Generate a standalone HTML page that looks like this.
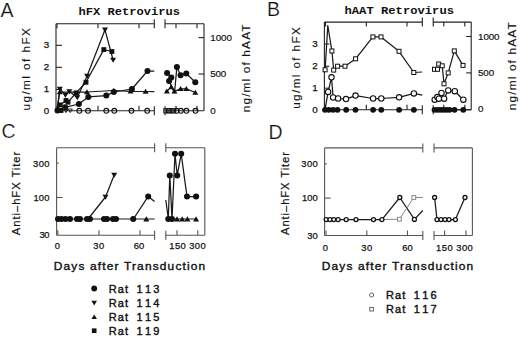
<!DOCTYPE html>
<html><head><meta charset="utf-8"><style>
html,body{margin:0;padding:0;background:#fff;}
body{width:520px;height:337px;overflow:hidden;font-family:"Liberation Sans", sans-serif;}
svg{display:block;}
</style></head><body>
<svg width="520" height="337" viewBox="0 0 520 337">
<rect width="520" height="337" fill="#fff"/>
<text x="0.5" y="17.1" font-size="19.5" font-family='"Liberation Sans", sans-serif' font-weight="normal" text-anchor="start" fill="#111" stroke="#fff" stroke-width="0.2">A</text>
<text x="267" y="15.7" font-size="19.5" font-family='"Liberation Sans", sans-serif' font-weight="normal" text-anchor="start" fill="#111" stroke="#fff" stroke-width="0.2">B</text>
<text x="1.5" y="138.4" font-size="19.5" font-family='"Liberation Sans", sans-serif' font-weight="normal" text-anchor="start" fill="#111" stroke="#fff" stroke-width="0.2">C</text>
<text x="268.5" y="138.9" font-size="19.5" font-family='"Liberation Sans", sans-serif' font-weight="normal" text-anchor="start" fill="#111" stroke="#fff" stroke-width="0.2">D</text>
<text x="78.4" y="14.5" font-size="10.2" font-family='"Liberation Mono", monospace' font-weight="bold" text-anchor="start" fill="#111" textLength="101.5" lengthAdjust="spacingAndGlyphs">hFX Retrovirus</text>
<text x="344.5" y="13.8" font-size="10.2" font-family='"Liberation Mono", monospace' font-weight="bold" text-anchor="start" fill="#111" textLength="109.5" lengthAdjust="spacingAndGlyphs">hAAT Retrovirus</text>
<line x1="56" y1="23.7" x2="154.3" y2="23.7" stroke="#222" stroke-width="1.1"/>
<line x1="165" y1="23.7" x2="204" y2="23.7" stroke="#222" stroke-width="1.1"/>
<line x1="56" y1="110.8" x2="154.3" y2="110.8" stroke="#222" stroke-width="1.1"/>
<line x1="165" y1="110.8" x2="204" y2="110.8" stroke="#222" stroke-width="1.1"/>
<line x1="56" y1="23.7" x2="56" y2="110.8" stroke="#222" stroke-width="1.1"/>
<line x1="204" y1="23.7" x2="204" y2="110.8" stroke="#222" stroke-width="1.1"/>
<line x1="154.3" y1="19.2" x2="154.3" y2="28.2" stroke="#222" stroke-width="1.1"/>
<line x1="154.3" y1="106.3" x2="154.3" y2="115.3" stroke="#222" stroke-width="1.1"/>
<line x1="165" y1="19.2" x2="165" y2="28.2" stroke="#222" stroke-width="1.1"/>
<line x1="165" y1="106.3" x2="165" y2="115.3" stroke="#222" stroke-width="1.1"/>
<line x1="57" y1="23.7" x2="57" y2="28.2" stroke="#222" stroke-width="1.1"/>
<line x1="57" y1="110.8" x2="57" y2="105.8" stroke="#222" stroke-width="1.1"/>
<line x1="98" y1="23.7" x2="98" y2="28.2" stroke="#222" stroke-width="1.1"/>
<line x1="98" y1="110.8" x2="98" y2="105.8" stroke="#222" stroke-width="1.1"/>
<line x1="139" y1="23.7" x2="139" y2="28.2" stroke="#222" stroke-width="1.1"/>
<line x1="139" y1="110.8" x2="139" y2="105.8" stroke="#222" stroke-width="1.1"/>
<line x1="176" y1="23.7" x2="176" y2="28.2" stroke="#222" stroke-width="1.1"/>
<line x1="176" y1="110.8" x2="176" y2="105.8" stroke="#222" stroke-width="1.1"/>
<line x1="197" y1="23.7" x2="197" y2="28.2" stroke="#222" stroke-width="1.1"/>
<line x1="197" y1="110.8" x2="197" y2="105.8" stroke="#222" stroke-width="1.1"/>
<line x1="56" y1="45.3" x2="62" y2="45.3" stroke="#222" stroke-width="1.1"/>
<line x1="56" y1="67.3" x2="62" y2="67.3" stroke="#222" stroke-width="1.1"/>
<line x1="56" y1="89.4" x2="62" y2="89.4" stroke="#222" stroke-width="1.1"/>
<line x1="204" y1="37.6" x2="198.5" y2="37.6" stroke="#222" stroke-width="1.1"/>
<line x1="204" y1="74" x2="198.5" y2="74" stroke="#222" stroke-width="1.1"/>
<text x="49.2" y="48.0" font-size="9.8" font-family='"Liberation Sans", sans-serif' font-weight="normal" text-anchor="end" fill="#111" stroke="#111" stroke-width="0.25">3</text>
<text x="49.2" y="70.0" font-size="9.8" font-family='"Liberation Sans", sans-serif' font-weight="normal" text-anchor="end" fill="#111" stroke="#111" stroke-width="0.25">2</text>
<text x="49.2" y="92.10000000000001" font-size="9.8" font-family='"Liberation Sans", sans-serif' font-weight="normal" text-anchor="end" fill="#111" stroke="#111" stroke-width="0.25">1</text>
<text x="49.2" y="113.5" font-size="9.8" font-family='"Liberation Sans", sans-serif' font-weight="normal" text-anchor="end" fill="#111" stroke="#111" stroke-width="0.25">0</text>
<text x="210.3" y="40.8" font-size="9.8" font-family='"Liberation Sans", sans-serif' font-weight="normal" text-anchor="start" fill="#111" textLength="21.6" lengthAdjust="spacing" stroke="#111" stroke-width="0.2">1000</text>
<text x="210.3" y="77.4" font-size="9.8" font-family='"Liberation Sans", sans-serif' font-weight="normal" text-anchor="start" fill="#111" textLength="16" lengthAdjust="spacing" stroke="#111" stroke-width="0.2">500</text>
<text x="210.3" y="114.1" font-size="9.8" font-family='"Liberation Sans", sans-serif' font-weight="normal" text-anchor="start" fill="#111" stroke="#111" stroke-width="0.2">0</text>
<text x="30.1" y="110.5" font-size="10" font-family='"Liberation Sans", sans-serif' font-weight="normal" text-anchor="start" fill="#111" textLength="83.8" lengthAdjust="spacingAndGlyphs" letter-spacing="1.2" stroke="#111" stroke-width="0.1" transform="rotate(-90 30.1 110.5)">ug/ml of hFX</text>
<text x="249.9" y="112.3" font-size="10.5" font-family='"Liberation Sans", sans-serif' font-weight="normal" text-anchor="start" fill="#111" textLength="89" lengthAdjust="spacingAndGlyphs" letter-spacing="1.0" stroke="#111" stroke-width="0.1" transform="rotate(-90 249.9 112.3)">ng/ml of hAAT</text>
<polyline points="57,110.5 60.2,104.9 66,100.5 68,102.2 76.1,92.9 86,82.3 103.8,49.6 111.9,51.5" fill="none" stroke="#1a1a1a" stroke-width="1.25" stroke-linejoin="round"/>
<polyline points="57,110.5 59.8,88.9 65.4,95.1 69.3,91.6 77.3,97.4 87.1,76 105,29.8 113.1,60" fill="none" stroke="#1a1a1a" stroke-width="1.25" stroke-linejoin="round"/>
<polyline points="57,110.5 59.8,92 87,92 113.8,90.5 130.6,91.3 145.6,91.5 154.3,91.5" fill="none" stroke="#1a1a1a" stroke-width="1.25" stroke-linejoin="round"/>
<polyline points="165,91 166.9,91.3 171.3,86.9 174.4,91.3 180.6,88.8 186.3,88.8 195.3,92.5" fill="none" stroke="#1a1a1a" stroke-width="1.25" stroke-linejoin="round"/>
<polyline points="57,110.5 65.1,107.3 78.9,104 88.3,96.9 106.3,95.6 113.8,92 131.9,89 147.5,71 154.3,71" fill="none" stroke="#1a1a1a" stroke-width="1.25" stroke-linejoin="round"/>
<polyline points="165,72 167.1,72.9 171.3,77.5 169.1,81 174.5,93 176.9,66.9 180.6,75.3 186.3,73.5 195.3,82.3" fill="none" stroke="#1a1a1a" stroke-width="1.25" stroke-linejoin="round"/>
<rect x="57.78" y="102.48" width="4.840000000000001" height="4.840000000000001" fill="#111"/>
<rect x="63.58" y="98.08" width="4.840000000000001" height="4.840000000000001" fill="#111"/>
<rect x="65.58" y="99.78" width="4.840000000000001" height="4.840000000000001" fill="#111"/>
<rect x="73.67999999999999" y="90.48" width="4.840000000000001" height="4.840000000000001" fill="#111"/>
<rect x="83.58" y="79.88" width="4.840000000000001" height="4.840000000000001" fill="#111"/>
<rect x="101.38" y="47.18" width="4.840000000000001" height="4.840000000000001" fill="#111"/>
<rect x="109.48" y="49.08" width="4.840000000000001" height="4.840000000000001" fill="#111"/>
<rect x="55.58" y="108.08" width="4.840000000000001" height="4.840000000000001" fill="#111"/>
<rect x="58.58" y="108.08" width="4.840000000000001" height="4.840000000000001" fill="#111"/>
<polygon points="56.809999999999995,86.6575 62.79,86.6575 59.8,91.74050000000001" fill="#111"/>
<polygon points="62.410000000000004,92.85749999999999 68.39,92.85749999999999 65.4,97.9405" fill="#111"/>
<polygon points="66.31,89.35749999999999 72.28999999999999,89.35749999999999 69.3,94.4405" fill="#111"/>
<polygon points="74.31,95.1575 80.28999999999999,95.1575 77.3,100.24050000000001" fill="#111"/>
<polygon points="84.11,73.7575 90.08999999999999,73.7575 87.1,78.8405" fill="#111"/>
<polygon points="102.01,27.5575 107.99,27.5575 105,32.6405" fill="#111"/>
<polygon points="110.11,57.7575 116.08999999999999,57.7575 113.1,62.8405" fill="#111"/>
<polygon points="56.809999999999995,94.2425 62.79,94.2425 59.8,89.1595" fill="#111"/>
<polygon points="84.01,94.2425 89.99,94.2425 87,89.1595" fill="#111"/>
<polygon points="110.81,92.7425 116.78999999999999,92.7425 113.8,87.6595" fill="#111"/>
<polygon points="127.61,93.54249999999999 133.59,93.54249999999999 130.6,88.45949999999999" fill="#111"/>
<polygon points="142.60999999999999,93.7425 148.59,93.7425 145.6,88.6595" fill="#111"/>
<polygon points="163.91,93.54249999999999 169.89000000000001,93.54249999999999 166.9,88.45949999999999" fill="#111"/>
<polygon points="168.31,89.14250000000001 174.29000000000002,89.14250000000001 171.3,84.0595" fill="#111"/>
<polygon points="171.41,93.54249999999999 177.39000000000001,93.54249999999999 174.4,88.45949999999999" fill="#111"/>
<polygon points="177.60999999999999,91.04249999999999 183.59,91.04249999999999 180.6,85.95949999999999" fill="#111"/>
<polygon points="183.31,91.04249999999999 189.29000000000002,91.04249999999999 186.3,85.95949999999999" fill="#111"/>
<polygon points="192.31,94.7425 198.29000000000002,94.7425 195.3,89.6595" fill="#111"/>
<circle cx="57.5" cy="110.5" r="3.0240000000000005" fill="#111"/>
<circle cx="65.1" cy="107.3" r="3.0240000000000005" fill="#111"/>
<circle cx="78.9" cy="104" r="3.0240000000000005" fill="#111"/>
<circle cx="88.3" cy="96.9" r="3.0240000000000005" fill="#111"/>
<circle cx="106.3" cy="95.6" r="3.0240000000000005" fill="#111"/>
<circle cx="113.8" cy="92" r="3.0240000000000005" fill="#111"/>
<circle cx="131.9" cy="89" r="3.0240000000000005" fill="#111"/>
<circle cx="147.5" cy="71" r="3.0240000000000005" fill="#111"/>
<circle cx="167.1" cy="72.9" r="3.0240000000000005" fill="#111"/>
<circle cx="171.3" cy="77.5" r="3.0240000000000005" fill="#111"/>
<circle cx="169.1" cy="81" r="3.0240000000000005" fill="#111"/>
<circle cx="176.9" cy="66.9" r="3.0240000000000005" fill="#111"/>
<circle cx="180.6" cy="75.3" r="3.0240000000000005" fill="#111"/>
<circle cx="186.3" cy="73.5" r="3.0240000000000005" fill="#111"/>
<circle cx="195.3" cy="82.3" r="3.0240000000000005" fill="#111"/>
<circle cx="79.3" cy="110.8" r="2.4" fill="none" stroke="#111" stroke-width="1.1"/>
<circle cx="88" cy="110.8" r="2.4" fill="none" stroke="#111" stroke-width="1.1"/>
<circle cx="106.3" cy="110.8" r="2.4" fill="none" stroke="#111" stroke-width="1.1"/>
<circle cx="114.3" cy="110.8" r="2.4" fill="none" stroke="#111" stroke-width="1.1"/>
<circle cx="131.5" cy="110.8" r="2.4" fill="none" stroke="#111" stroke-width="1.1"/>
<circle cx="147.2" cy="110.8" r="2.4" fill="none" stroke="#111" stroke-width="1.1"/>
<circle cx="176.6" cy="110.8" r="2.4" fill="none" stroke="#111" stroke-width="1.1"/>
<circle cx="180.9" cy="110.8" r="2.4" fill="none" stroke="#111" stroke-width="1.1"/>
<circle cx="186.4" cy="110.8" r="2.4" fill="none" stroke="#111" stroke-width="1.1"/>
<circle cx="195.5" cy="110.8" r="2.4" fill="none" stroke="#111" stroke-width="1.1"/>
<rect x="163.8" y="108.7" width="4" height="4.2" fill="none" stroke="#111" stroke-width="1"/>
<rect x="166.4" y="108.7" width="4" height="4.2" fill="none" stroke="#111" stroke-width="1"/>
<rect x="169" y="108.7" width="4" height="4.2" fill="none" stroke="#111" stroke-width="1"/>
<rect x="171.6" y="108.7" width="4" height="4.2" fill="none" stroke="#111" stroke-width="1"/>
<polygon points="64,109.0 68,109.0 66,112.6" fill="none" stroke="#111" stroke-width="0.9"/>
<polygon points="68.3,109.0 72.3,109.0 70.3,112.6" fill="none" stroke="#111" stroke-width="0.9"/>
<line x1="324.4" y1="22.1" x2="422.3" y2="22.1" stroke="#222" stroke-width="1.1"/>
<line x1="433.2" y1="22.1" x2="471.2" y2="22.1" stroke="#222" stroke-width="1.1"/>
<line x1="324.4" y1="109.8" x2="422.3" y2="109.8" stroke="#222" stroke-width="1.1"/>
<line x1="433.2" y1="109.8" x2="471.2" y2="109.8" stroke="#222" stroke-width="1.1"/>
<line x1="324.4" y1="22.1" x2="324.4" y2="109.8" stroke="#222" stroke-width="1.1"/>
<line x1="471.2" y1="22.1" x2="471.2" y2="109.8" stroke="#222" stroke-width="1.1"/>
<line x1="422.3" y1="17.6" x2="422.3" y2="26.6" stroke="#222" stroke-width="1.1"/>
<line x1="422.3" y1="105.3" x2="422.3" y2="114.3" stroke="#222" stroke-width="1.1"/>
<line x1="433.2" y1="17.6" x2="433.2" y2="26.6" stroke="#222" stroke-width="1.1"/>
<line x1="433.2" y1="105.3" x2="433.2" y2="114.3" stroke="#222" stroke-width="1.1"/>
<line x1="325.5" y1="22.1" x2="325.5" y2="26.6" stroke="#222" stroke-width="1.1"/>
<line x1="325.5" y1="109.8" x2="325.5" y2="104.8" stroke="#222" stroke-width="1.1"/>
<line x1="366.3" y1="22.1" x2="366.3" y2="26.6" stroke="#222" stroke-width="1.1"/>
<line x1="366.3" y1="109.8" x2="366.3" y2="104.8" stroke="#222" stroke-width="1.1"/>
<line x1="407" y1="22.1" x2="407" y2="26.6" stroke="#222" stroke-width="1.1"/>
<line x1="407" y1="109.8" x2="407" y2="104.8" stroke="#222" stroke-width="1.1"/>
<line x1="443.8" y1="22.1" x2="443.8" y2="26.6" stroke="#222" stroke-width="1.1"/>
<line x1="443.8" y1="109.8" x2="443.8" y2="104.8" stroke="#222" stroke-width="1.1"/>
<line x1="464.8" y1="22.1" x2="464.8" y2="26.6" stroke="#222" stroke-width="1.1"/>
<line x1="464.8" y1="109.8" x2="464.8" y2="104.8" stroke="#222" stroke-width="1.1"/>
<line x1="324.4" y1="44" x2="329.4" y2="44" stroke="#222" stroke-width="1.1"/>
<line x1="324.4" y1="66.2" x2="329.4" y2="66.2" stroke="#222" stroke-width="1.1"/>
<line x1="324.4" y1="88.2" x2="329.4" y2="88.2" stroke="#222" stroke-width="1.1"/>
<line x1="471.2" y1="36.5" x2="466.2" y2="36.5" stroke="#222" stroke-width="1.1"/>
<line x1="471.2" y1="72.9" x2="466.2" y2="72.9" stroke="#222" stroke-width="1.1"/>
<text x="317.8" y="46.6" font-size="9.8" font-family='"Liberation Sans", sans-serif' font-weight="normal" text-anchor="end" fill="#111" stroke="#111" stroke-width="0.25">3</text>
<text x="317.8" y="69.2" font-size="9.8" font-family='"Liberation Sans", sans-serif' font-weight="normal" text-anchor="end" fill="#111" stroke="#111" stroke-width="0.25">2</text>
<text x="317.8" y="90.9" font-size="9.8" font-family='"Liberation Sans", sans-serif' font-weight="normal" text-anchor="end" fill="#111" stroke="#111" stroke-width="0.25">1</text>
<text x="317.8" y="112.8" font-size="9.8" font-family='"Liberation Sans", sans-serif' font-weight="normal" text-anchor="end" fill="#111" stroke="#111" stroke-width="0.25">0</text>
<text x="478.1" y="40.1" font-size="9.8" font-family='"Liberation Sans", sans-serif' font-weight="normal" text-anchor="start" fill="#111" textLength="21.4" lengthAdjust="spacing" stroke="#111" stroke-width="0.2">1000</text>
<text x="478.1" y="76.1" font-size="9.8" font-family='"Liberation Sans", sans-serif' font-weight="normal" text-anchor="start" fill="#111" textLength="16" lengthAdjust="spacing" stroke="#111" stroke-width="0.2">500</text>
<text x="478.1" y="112.0" font-size="9.8" font-family='"Liberation Sans", sans-serif' font-weight="normal" text-anchor="start" fill="#111" stroke="#111" stroke-width="0.2">0</text>
<text x="299.8" y="108.8" font-size="10" font-family='"Liberation Sans", sans-serif' font-weight="normal" text-anchor="start" fill="#111" textLength="83" lengthAdjust="spacingAndGlyphs" letter-spacing="1.2" stroke="#111" stroke-width="0.1" transform="rotate(-90 299.8 108.8)">ug/ml of hFX</text>
<text x="516.3" y="110.2" font-size="10.5" font-family='"Liberation Sans", sans-serif' font-weight="normal" text-anchor="start" fill="#111" textLength="89" lengthAdjust="spacingAndGlyphs" letter-spacing="1.0" stroke="#111" stroke-width="0.1" transform="rotate(-90 516.3 110.2)">ng/ml of hAAT</text>
<polyline points="325.1,69.8 327.8,25.5 331.9,51 333.7,70.1 337.6,66.2 345,66.2 355.6,58.8 372.9,36.9 381,36.9 399,51.3 413.8,72.5 422.3,72" fill="none" stroke="#1a1a1a" stroke-width="1.25" stroke-linejoin="round"/>
<polyline points="442.2,65.8 444,83.8 448.2,72.9 454.3,50.9 463,65.4" fill="none" stroke="#1a1a1a" stroke-width="1.25" stroke-linejoin="round"/>
<polyline points="325,109.8 328.1,91.9 331.5,77.3 333.1,97.5 338.1,98.5 346,99.1 355.5,95.6 373.1,98.5 381.3,98.5 399.1,97.3 413.9,93.4 422.3,95.2" fill="none" stroke="#1a1a1a" stroke-width="1.25" stroke-linejoin="round"/>
<polyline points="434.7,99.7 437.3,97.1 441.5,93 444.1,98.7 448.2,90.4 454.8,91.2 463.3,99.7" fill="none" stroke="#1a1a1a" stroke-width="1.25" stroke-linejoin="round"/>
<polyline points="433.2,109.8 471.2,109.8" fill="none" stroke="#1a1a1a" stroke-width="1.0" stroke-linejoin="round"/>
<circle cx="325" cy="109.8" r="2.9120000000000004" fill="#111"/>
<circle cx="328.8" cy="109.8" r="2.9120000000000004" fill="#111"/>
<circle cx="333.1" cy="109.8" r="2.9120000000000004" fill="#111"/>
<circle cx="337.5" cy="109.8" r="2.9120000000000004" fill="#111"/>
<circle cx="346.2" cy="109.8" r="2.9120000000000004" fill="#111"/>
<circle cx="355.5" cy="109.8" r="2.9120000000000004" fill="#111"/>
<circle cx="373.1" cy="109.8" r="2.9120000000000004" fill="#111"/>
<circle cx="381.3" cy="109.8" r="2.9120000000000004" fill="#111"/>
<circle cx="399.1" cy="109.8" r="2.9120000000000004" fill="#111"/>
<circle cx="413.9" cy="109.8" r="2.9120000000000004" fill="#111"/>
<circle cx="434.5" cy="109.8" r="2.9120000000000004" fill="#111"/>
<circle cx="437.5" cy="109.8" r="2.9120000000000004" fill="#111"/>
<circle cx="440.5" cy="109.8" r="2.9120000000000004" fill="#111"/>
<circle cx="443.5" cy="109.8" r="2.9120000000000004" fill="#111"/>
<circle cx="446.5" cy="109.8" r="2.9120000000000004" fill="#111"/>
<circle cx="449.5" cy="109.8" r="2.9120000000000004" fill="#111"/>
<circle cx="454.5" cy="109.8" r="2.9120000000000004" fill="#111"/>
<circle cx="463.3" cy="109.8" r="2.9120000000000004" fill="#111"/>
<rect x="323.1" y="67.8" width="4.0" height="4.0" fill="#fff" stroke="#111" stroke-width="1.0"/>
<rect x="329.9" y="49.0" width="4.0" height="4.0" fill="#fff" stroke="#111" stroke-width="1.0"/>
<rect x="331.7" y="68.1" width="4.0" height="4.0" fill="#fff" stroke="#111" stroke-width="1.0"/>
<rect x="335.6" y="64.2" width="4.0" height="4.0" fill="#fff" stroke="#111" stroke-width="1.0"/>
<rect x="343.0" y="64.2" width="4.0" height="4.0" fill="#fff" stroke="#111" stroke-width="1.0"/>
<rect x="353.6" y="56.8" width="4.0" height="4.0" fill="#fff" stroke="#111" stroke-width="1.0"/>
<rect x="370.9" y="34.9" width="4.0" height="4.0" fill="#fff" stroke="#111" stroke-width="1.0"/>
<rect x="379.0" y="34.9" width="4.0" height="4.0" fill="#fff" stroke="#111" stroke-width="1.0"/>
<rect x="397.0" y="49.3" width="4.0" height="4.0" fill="#fff" stroke="#111" stroke-width="1.0"/>
<rect x="411.8" y="70.5" width="4.0" height="4.0" fill="#fff" stroke="#111" stroke-width="1.0"/>
<rect x="432.5" y="67.3" width="4.0" height="4.0" fill="#fff" stroke="#111" stroke-width="1.0"/>
<rect x="435.5" y="67.3" width="4.0" height="4.0" fill="#fff" stroke="#111" stroke-width="1.0"/>
<rect x="436.7" y="62.0" width="4.0" height="4.0" fill="#fff" stroke="#111" stroke-width="1.0"/>
<rect x="440.2" y="63.8" width="4.0" height="4.0" fill="#fff" stroke="#111" stroke-width="1.0"/>
<rect x="442.0" y="81.8" width="4.0" height="4.0" fill="#fff" stroke="#111" stroke-width="1.0"/>
<rect x="446.2" y="70.9" width="4.0" height="4.0" fill="#fff" stroke="#111" stroke-width="1.0"/>
<rect x="452.3" y="48.9" width="4.0" height="4.0" fill="#fff" stroke="#111" stroke-width="1.0"/>
<rect x="461.0" y="63.400000000000006" width="4.0" height="4.0" fill="#fff" stroke="#111" stroke-width="1.0"/>
<circle cx="328.1" cy="91.9" r="2.7" fill="#fff" stroke="#111" stroke-width="1.1"/>
<circle cx="331.5" cy="77.3" r="2.7" fill="#fff" stroke="#111" stroke-width="1.1"/>
<circle cx="333.1" cy="97.5" r="2.7" fill="#fff" stroke="#111" stroke-width="1.1"/>
<circle cx="338.1" cy="98.5" r="2.7" fill="#fff" stroke="#111" stroke-width="1.1"/>
<circle cx="346" cy="99.1" r="2.7" fill="#fff" stroke="#111" stroke-width="1.1"/>
<circle cx="355.5" cy="95.6" r="2.7" fill="#fff" stroke="#111" stroke-width="1.1"/>
<circle cx="373.1" cy="98.5" r="2.7" fill="#fff" stroke="#111" stroke-width="1.1"/>
<circle cx="381.3" cy="98.5" r="2.7" fill="#fff" stroke="#111" stroke-width="1.1"/>
<circle cx="399.1" cy="97.3" r="2.7" fill="#fff" stroke="#111" stroke-width="1.1"/>
<circle cx="413.9" cy="93.4" r="2.7" fill="#fff" stroke="#111" stroke-width="1.1"/>
<circle cx="434.7" cy="99.7" r="2.7" fill="#fff" stroke="#111" stroke-width="1.1"/>
<circle cx="437.3" cy="97.1" r="2.7" fill="#fff" stroke="#111" stroke-width="1.1"/>
<circle cx="438.9" cy="98.7" r="2.7" fill="#fff" stroke="#111" stroke-width="1.1"/>
<circle cx="441.5" cy="93" r="2.7" fill="#fff" stroke="#111" stroke-width="1.1"/>
<circle cx="444.1" cy="98.7" r="2.7" fill="#fff" stroke="#111" stroke-width="1.1"/>
<circle cx="448.2" cy="90.4" r="2.7" fill="#fff" stroke="#111" stroke-width="1.1"/>
<circle cx="454.8" cy="91.2" r="2.7" fill="#fff" stroke="#111" stroke-width="1.1"/>
<circle cx="463.3" cy="99.7" r="2.7" fill="#fff" stroke="#111" stroke-width="1.1"/>
<line x1="56.6" y1="147.7" x2="154.6" y2="147.7" stroke="#555" stroke-width="1.1"/>
<line x1="165.8" y1="147.7" x2="204.8" y2="147.7" stroke="#555" stroke-width="1.1"/>
<line x1="56.6" y1="235.2" x2="154.6" y2="235.2" stroke="#555" stroke-width="1.1"/>
<line x1="165.8" y1="235.2" x2="204.8" y2="235.2" stroke="#555" stroke-width="1.1"/>
<line x1="56.6" y1="147.7" x2="56.6" y2="235.2" stroke="#555" stroke-width="1.1"/>
<line x1="204.8" y1="147.7" x2="204.8" y2="235.2" stroke="#555" stroke-width="1.1"/>
<line x1="154.6" y1="143.2" x2="154.6" y2="152.2" stroke="#555" stroke-width="1.1"/>
<line x1="154.6" y1="230.7" x2="154.6" y2="239.7" stroke="#555" stroke-width="1.1"/>
<line x1="165.8" y1="143.2" x2="165.8" y2="152.2" stroke="#555" stroke-width="1.1"/>
<line x1="165.8" y1="230.7" x2="165.8" y2="239.7" stroke="#555" stroke-width="1.1"/>
<line x1="57.8" y1="235.2" x2="57.8" y2="230.2" stroke="#555" stroke-width="1.1"/>
<line x1="99" y1="235.2" x2="99" y2="230.2" stroke="#555" stroke-width="1.1"/>
<line x1="140" y1="235.2" x2="140" y2="230.2" stroke="#555" stroke-width="1.1"/>
<line x1="177" y1="235.2" x2="177" y2="230.2" stroke="#555" stroke-width="1.1"/>
<line x1="197.8" y1="235.2" x2="197.8" y2="230.2" stroke="#555" stroke-width="1.1"/>
<line x1="56.6" y1="163.1" x2="58.800000000000004" y2="163.1" stroke="#555" stroke-width="1.1"/>
<line x1="56.6" y1="197.5" x2="62.6" y2="197.5" stroke="#555" stroke-width="1.1"/>
<text x="49.4" y="166.60000000000002" font-size="9.4" font-family='"Liberation Sans", sans-serif' font-weight="normal" text-anchor="end" fill="#111" textLength="16.3" lengthAdjust="spacing" stroke="#111" stroke-width="0.25">300</text>
<text x="49.4" y="200.8" font-size="9.4" font-family='"Liberation Sans", sans-serif' font-weight="normal" text-anchor="end" fill="#111" textLength="16" lengthAdjust="spacing" stroke="#111" stroke-width="0.25">100</text>
<text x="49.4" y="238.4" font-size="9.4" font-family='"Liberation Sans", sans-serif' font-weight="normal" text-anchor="end" fill="#111" textLength="10" lengthAdjust="spacing" stroke="#111" stroke-width="0.25">30</text>
<text x="57.4" y="249" font-size="9.4" font-family='"Liberation Sans", sans-serif' font-weight="normal" text-anchor="middle" fill="#111" stroke="#111" stroke-width="0.25">0</text>
<text x="98.8" y="249" font-size="9.4" font-family='"Liberation Sans", sans-serif' font-weight="normal" text-anchor="middle" fill="#111" textLength="11" lengthAdjust="spacing" stroke="#111" stroke-width="0.25">30</text>
<text x="139" y="249" font-size="9.4" font-family='"Liberation Sans", sans-serif' font-weight="normal" text-anchor="middle" fill="#111" textLength="10.6" lengthAdjust="spacing" stroke="#111" stroke-width="0.25">60</text>
<text x="177.5" y="249" font-size="9.4" font-family='"Liberation Sans", sans-serif' font-weight="normal" text-anchor="middle" fill="#111" textLength="16.4" lengthAdjust="spacing" stroke="#111" stroke-width="0.25">150</text>
<text x="197.4" y="249" font-size="9.4" font-family='"Liberation Sans", sans-serif' font-weight="normal" text-anchor="middle" fill="#111" textLength="16.5" lengthAdjust="spacing" stroke="#111" stroke-width="0.25">300</text>
<text x="20.1" y="235.2" font-size="11.2" font-family='"Liberation Sans", sans-serif' font-weight="normal" text-anchor="start" fill="#111" textLength="83.5" lengthAdjust="spacing" stroke="#111" stroke-width="0.2" transform="rotate(-90 20.1 235.2)">Anti&#8211;hFX Titer</text>
<polyline points="57.8,219 154.6,219" fill="none" stroke="#1a1a1a" stroke-width="1.2" stroke-linejoin="round"/>
<polyline points="88,219 105.5,197 114.2,175" fill="none" stroke="#1a1a1a" stroke-width="1.25" stroke-linejoin="round"/>
<polyline points="133.4,219 148.2,196.4 154.6,201.6" fill="none" stroke="#1a1a1a" stroke-width="1.25" stroke-linejoin="round"/>
<polyline points="165.8,200 168.3,219 169.8,175.4 172,219 175,153.8 177.2,175.4 181.2,153.8 187,196.6 196.1,196.6" fill="none" stroke="#1a1a1a" stroke-width="1.25" stroke-linejoin="round"/>
<polyline points="165.8,219 196.1,219" fill="none" stroke="#1a1a1a" stroke-width="1.0" stroke-linejoin="round"/>
<circle cx="58" cy="219" r="3.0240000000000005" fill="#111"/>
<circle cx="61.5" cy="219" r="3.0240000000000005" fill="#111"/>
<circle cx="65.5" cy="219" r="3.0240000000000005" fill="#111"/>
<circle cx="70" cy="219" r="3.0240000000000005" fill="#111"/>
<circle cx="77" cy="219" r="3.0240000000000005" fill="#111"/>
<circle cx="80" cy="219" r="3.0240000000000005" fill="#111"/>
<circle cx="87" cy="219" r="3.0240000000000005" fill="#111"/>
<circle cx="90" cy="219" r="3.0240000000000005" fill="#111"/>
<circle cx="104" cy="219" r="3.0240000000000005" fill="#111"/>
<circle cx="107" cy="219" r="3.0240000000000005" fill="#111"/>
<circle cx="113" cy="219" r="3.0240000000000005" fill="#111"/>
<circle cx="116" cy="219" r="3.0240000000000005" fill="#111"/>
<circle cx="133.2" cy="219" r="3.0240000000000005" fill="#111"/>
<circle cx="168.3" cy="219" r="3.0240000000000005" fill="#111"/>
<circle cx="172" cy="219" r="3.0240000000000005" fill="#111"/>
<circle cx="148.2" cy="196.4" r="3.0240000000000005" fill="#111"/>
<circle cx="169.8" cy="175.4" r="3.0240000000000005" fill="#111"/>
<circle cx="175" cy="153.8" r="3.0240000000000005" fill="#111"/>
<circle cx="177.2" cy="175.4" r="3.0240000000000005" fill="#111"/>
<circle cx="181.2" cy="153.8" r="3.0240000000000005" fill="#111"/>
<circle cx="187" cy="196.6" r="3.0240000000000005" fill="#111"/>
<circle cx="196.1" cy="196.6" r="3.0240000000000005" fill="#111"/>
<polygon points="102.51,194.7575 108.49,194.7575 105.5,199.8405" fill="#111"/>
<polygon points="111.21000000000001,172.7575 117.19,172.7575 114.2,177.8405" fill="#111"/>
<polygon points="143.31,221.4425 149.29000000000002,221.4425 146.3,216.3595" fill="#111"/>
<polygon points="174.01,221.4425 179.99,221.4425 177,216.3595" fill="#111"/>
<polygon points="179.20999999999998,221.4425 185.19,221.4425 182.2,216.3595" fill="#111"/>
<polygon points="184.41,221.4425 190.39000000000001,221.4425 187.4,216.3595" fill="#111"/>
<polygon points="193.10999999999999,221.4425 199.09,221.4425 196.1,216.3595" fill="#111"/>
<line x1="324.6" y1="147.9" x2="422.8" y2="147.9" stroke="#555" stroke-width="1.1"/>
<line x1="434" y1="147.9" x2="472.4" y2="147.9" stroke="#555" stroke-width="1.1"/>
<line x1="324.6" y1="235.5" x2="422.8" y2="235.5" stroke="#555" stroke-width="1.1"/>
<line x1="434" y1="235.5" x2="472.4" y2="235.5" stroke="#555" stroke-width="1.1"/>
<line x1="324.6" y1="147.9" x2="324.6" y2="235.5" stroke="#555" stroke-width="1.1"/>
<line x1="472.4" y1="147.9" x2="472.4" y2="235.5" stroke="#555" stroke-width="1.1"/>
<line x1="422.8" y1="143.4" x2="422.8" y2="152.4" stroke="#555" stroke-width="1.1"/>
<line x1="422.8" y1="231.0" x2="422.8" y2="240.0" stroke="#555" stroke-width="1.1"/>
<line x1="434" y1="143.4" x2="434" y2="152.4" stroke="#555" stroke-width="1.1"/>
<line x1="434" y1="231.0" x2="434" y2="240.0" stroke="#555" stroke-width="1.1"/>
<line x1="326" y1="235.5" x2="326" y2="230.5" stroke="#555" stroke-width="1.1"/>
<line x1="366.8" y1="235.5" x2="366.8" y2="230.5" stroke="#555" stroke-width="1.1"/>
<line x1="407.5" y1="235.5" x2="407.5" y2="230.5" stroke="#555" stroke-width="1.1"/>
<line x1="444.6" y1="235.5" x2="444.6" y2="230.5" stroke="#555" stroke-width="1.1"/>
<line x1="466" y1="235.5" x2="466" y2="230.5" stroke="#555" stroke-width="1.1"/>
<line x1="324.6" y1="163.8" x2="326.8" y2="163.8" stroke="#555" stroke-width="1.1"/>
<line x1="324.6" y1="198.1" x2="330.6" y2="198.1" stroke="#555" stroke-width="1.1"/>
<text x="317.8" y="167.10000000000002" font-size="9.4" font-family='"Liberation Sans", sans-serif' font-weight="normal" text-anchor="end" fill="#111" textLength="16.5" lengthAdjust="spacing" stroke="#111" stroke-width="0.25">300</text>
<text x="317.8" y="201.4" font-size="9.4" font-family='"Liberation Sans", sans-serif' font-weight="normal" text-anchor="end" fill="#111" textLength="15.9" lengthAdjust="spacing" stroke="#111" stroke-width="0.25">100</text>
<text x="317.8" y="238.8" font-size="9.4" font-family='"Liberation Sans", sans-serif' font-weight="normal" text-anchor="end" fill="#111" textLength="10.5" lengthAdjust="spacing" stroke="#111" stroke-width="0.25">30</text>
<text x="325.4" y="250.8" font-size="9.4" font-family='"Liberation Sans", sans-serif' font-weight="normal" text-anchor="middle" fill="#111" stroke="#111" stroke-width="0.25">0</text>
<text x="366.8" y="250.8" font-size="9.4" font-family='"Liberation Sans", sans-serif' font-weight="normal" text-anchor="middle" fill="#111" textLength="11" lengthAdjust="spacing" stroke="#111" stroke-width="0.25">30</text>
<text x="407.5" y="250.8" font-size="9.4" font-family='"Liberation Sans", sans-serif' font-weight="normal" text-anchor="middle" fill="#111" textLength="10.6" lengthAdjust="spacing" stroke="#111" stroke-width="0.25">60</text>
<text x="444.4" y="250.8" font-size="9.4" font-family='"Liberation Sans", sans-serif' font-weight="normal" text-anchor="middle" fill="#111" textLength="16.6" lengthAdjust="spacing" stroke="#111" stroke-width="0.25">150</text>
<text x="464.5" y="250.8" font-size="9.4" font-family='"Liberation Sans", sans-serif' font-weight="normal" text-anchor="middle" fill="#111" textLength="16.6" lengthAdjust="spacing" stroke="#111" stroke-width="0.25">300</text>
<text x="289.3" y="235" font-size="11.2" font-family='"Liberation Sans", sans-serif' font-weight="normal" text-anchor="start" fill="#111" textLength="83" lengthAdjust="spacing" stroke="#111" stroke-width="0.2" transform="rotate(-90 289.3 235)">Anti&#8211;hFX Titer</text>
<polyline points="326,219.6 381.9,219.6 399.8,197.5 414.4,219.4 422.8,210.5" fill="none" stroke="#1a1a1a" stroke-width="1.25" stroke-linejoin="round"/>
<polyline points="381.9,219.6 399.4,219.2 413.8,197.5 422.8,197.5" fill="none" stroke="#888" stroke-width="1.0" stroke-linejoin="round"/>
<polyline points="434.6,197.5 437,219.6 455.4,219.6 465,197.5" fill="none" stroke="#1a1a1a" stroke-width="1.25" stroke-linejoin="round"/>
<rect x="397.5" y="217.29999999999998" width="3.8" height="3.8" fill="#fff" stroke="#888" stroke-width="1.0"/>
<rect x="411.90000000000003" y="195.6" width="3.8" height="3.8" fill="#fff" stroke="#888" stroke-width="1.0"/>
<circle cx="326.2" cy="219.6" r="2.0" fill="#fff" stroke="#111" stroke-width="1.3"/>
<circle cx="330" cy="219.6" r="2.0" fill="#fff" stroke="#111" stroke-width="1.3"/>
<circle cx="333.8" cy="219.6" r="2.0" fill="#fff" stroke="#111" stroke-width="1.3"/>
<circle cx="338.1" cy="219.6" r="2.0" fill="#fff" stroke="#111" stroke-width="1.3"/>
<circle cx="346.2" cy="219.6" r="2.0" fill="#fff" stroke="#111" stroke-width="1.3"/>
<circle cx="356" cy="219.6" r="2.0" fill="#fff" stroke="#111" stroke-width="1.3"/>
<circle cx="373.5" cy="219.6" r="2.0" fill="#fff" stroke="#111" stroke-width="1.3"/>
<circle cx="381.9" cy="219.6" r="2.0" fill="#fff" stroke="#111" stroke-width="1.3"/>
<circle cx="399.8" cy="197.5" r="2.0" fill="#fff" stroke="#111" stroke-width="1.3"/>
<circle cx="414.4" cy="219.4" r="2.0" fill="#fff" stroke="#111" stroke-width="1.3"/>
<circle cx="434.6" cy="197.5" r="2.0" fill="#fff" stroke="#111" stroke-width="1.3"/>
<circle cx="437" cy="219.6" r="2.0" fill="#fff" stroke="#111" stroke-width="1.3"/>
<circle cx="441" cy="219.6" r="2.0" fill="#fff" stroke="#111" stroke-width="1.3"/>
<circle cx="445" cy="219.6" r="2.0" fill="#fff" stroke="#111" stroke-width="1.3"/>
<circle cx="449" cy="219.6" r="2.0" fill="#fff" stroke="#111" stroke-width="1.3"/>
<circle cx="455.4" cy="219.6" r="2.0" fill="#fff" stroke="#111" stroke-width="1.3"/>
<circle cx="465" cy="197.5" r="2.0" fill="#fff" stroke="#111" stroke-width="1.3"/>
<text x="53.8" y="269.5" font-size="10.2" font-family='"Liberation Sans", sans-serif' font-weight="normal" text-anchor="start" fill="#111" textLength="152.6" lengthAdjust="spacingAndGlyphs" letter-spacing="1" stroke="#111" stroke-width="0.35">Days after Transduction</text>
<text x="321.8" y="269.7" font-size="10.2" font-family='"Liberation Sans", sans-serif' font-weight="normal" text-anchor="start" fill="#111" textLength="152.6" lengthAdjust="spacingAndGlyphs" letter-spacing="1" stroke="#111" stroke-width="0.35">Days after Transduction</text>
<circle cx="94.2" cy="288.5" r="2.9120000000000004" fill="#111"/>
<text x="108.8" y="292.5" font-size="11" font-family='"Liberation Sans", sans-serif' font-weight="normal" text-anchor="start" fill="#111" textLength="19.3" lengthAdjust="spacing" stroke="#111" stroke-width="0.4">Rat</text>
<text x="139.6" y="292.5" font-size="11" font-family='"Liberation Sans", sans-serif' font-weight="normal" text-anchor="middle" fill="#111" stroke="#111" stroke-width="0.4">1</text>
<text x="148.0" y="292.5" font-size="11" font-family='"Liberation Sans", sans-serif' font-weight="normal" text-anchor="middle" fill="#111" stroke="#111" stroke-width="0.4">1</text>
<text x="156.4" y="292.5" font-size="11" font-family='"Liberation Sans", sans-serif' font-weight="normal" text-anchor="middle" fill="#111" stroke="#111" stroke-width="0.4">3</text>
<polygon points="91.44,300.73 96.96000000000001,300.73 94.2,305.422" fill="#111"/>
<text x="108.8" y="306.8" font-size="11" font-family='"Liberation Sans", sans-serif' font-weight="normal" text-anchor="start" fill="#111" textLength="19.3" lengthAdjust="spacing" stroke="#111" stroke-width="0.4">Rat</text>
<text x="139.6" y="306.8" font-size="11" font-family='"Liberation Sans", sans-serif' font-weight="normal" text-anchor="middle" fill="#111" stroke="#111" stroke-width="0.4">1</text>
<text x="148.0" y="306.8" font-size="11" font-family='"Liberation Sans", sans-serif' font-weight="normal" text-anchor="middle" fill="#111" stroke="#111" stroke-width="0.4">1</text>
<text x="156.4" y="306.8" font-size="11" font-family='"Liberation Sans", sans-serif' font-weight="normal" text-anchor="middle" fill="#111" stroke="#111" stroke-width="0.4">4</text>
<polygon points="91.44,319.07 96.96000000000001,319.07 94.2,314.378" fill="#111"/>
<text x="108.8" y="321" font-size="11" font-family='"Liberation Sans", sans-serif' font-weight="normal" text-anchor="start" fill="#111" textLength="19.3" lengthAdjust="spacing" stroke="#111" stroke-width="0.4">Rat</text>
<text x="139.6" y="321" font-size="11" font-family='"Liberation Sans", sans-serif' font-weight="normal" text-anchor="middle" fill="#111" stroke="#111" stroke-width="0.4">1</text>
<text x="148.0" y="321" font-size="11" font-family='"Liberation Sans", sans-serif' font-weight="normal" text-anchor="middle" fill="#111" stroke="#111" stroke-width="0.4">1</text>
<text x="156.4" y="321" font-size="11" font-family='"Liberation Sans", sans-serif' font-weight="normal" text-anchor="middle" fill="#111" stroke="#111" stroke-width="0.4">5</text>
<rect x="91.89" y="328.39" width="4.620000000000001" height="4.620000000000001" fill="#111"/>
<text x="108.8" y="334.7" font-size="11" font-family='"Liberation Sans", sans-serif' font-weight="normal" text-anchor="start" fill="#111" textLength="19.3" lengthAdjust="spacing" stroke="#111" stroke-width="0.4">Rat</text>
<text x="139.6" y="334.7" font-size="11" font-family='"Liberation Sans", sans-serif' font-weight="normal" text-anchor="middle" fill="#111" stroke="#111" stroke-width="0.4">1</text>
<text x="148.0" y="334.7" font-size="11" font-family='"Liberation Sans", sans-serif' font-weight="normal" text-anchor="middle" fill="#111" stroke="#111" stroke-width="0.4">1</text>
<text x="156.4" y="334.7" font-size="11" font-family='"Liberation Sans", sans-serif' font-weight="normal" text-anchor="middle" fill="#111" stroke="#111" stroke-width="0.4">9</text>
<circle cx="371.6" cy="295" r="2.1" fill="#fff" stroke="#555" stroke-width="0.9"/>
<rect x="369.8" y="307.4" width="3.6" height="3.6" fill="#fff" stroke="#555" stroke-width="0.9"/>
<text x="386" y="298.8" font-size="11" font-family='"Liberation Sans", sans-serif' font-weight="normal" text-anchor="start" fill="#111" textLength="19.3" lengthAdjust="spacing" stroke="#111" stroke-width="0.4">Rat</text>
<text x="416.8" y="298.8" font-size="11" font-family='"Liberation Sans", sans-serif' font-weight="normal" text-anchor="middle" fill="#111" stroke="#111" stroke-width="0.4">1</text>
<text x="425.2" y="298.8" font-size="11" font-family='"Liberation Sans", sans-serif' font-weight="normal" text-anchor="middle" fill="#111" stroke="#111" stroke-width="0.4">1</text>
<text x="433.6" y="298.8" font-size="11" font-family='"Liberation Sans", sans-serif' font-weight="normal" text-anchor="middle" fill="#111" stroke="#111" stroke-width="0.4">6</text>
<text x="386" y="313.1" font-size="11" font-family='"Liberation Sans", sans-serif' font-weight="normal" text-anchor="start" fill="#111" textLength="19.3" lengthAdjust="spacing" stroke="#111" stroke-width="0.4">Rat</text>
<text x="416.8" y="313.1" font-size="11" font-family='"Liberation Sans", sans-serif' font-weight="normal" text-anchor="middle" fill="#111" stroke="#111" stroke-width="0.4">1</text>
<text x="425.2" y="313.1" font-size="11" font-family='"Liberation Sans", sans-serif' font-weight="normal" text-anchor="middle" fill="#111" stroke="#111" stroke-width="0.4">1</text>
<text x="433.6" y="313.1" font-size="11" font-family='"Liberation Sans", sans-serif' font-weight="normal" text-anchor="middle" fill="#111" stroke="#111" stroke-width="0.4">7</text>
</svg>
</body></html>
